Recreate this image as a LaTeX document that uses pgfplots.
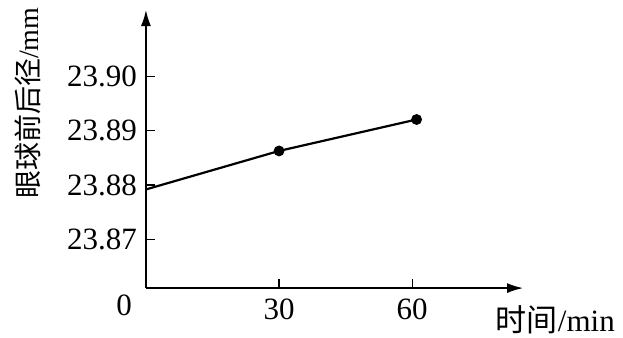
\documentclass[border=0pt]{standalone}
\usepackage{fontspec}
\setmainfont{Liberation Serif}
\newfontfamily\cjk{Noto Sans CJK SC}
\usepackage{pgfplots}
\pgfplotsset{compat=1.18}
\usetikzlibrary{arrows.meta}
\begin{document}
\begin{tikzpicture}
\begin{axis}[
  scale only axis, width=188.5pt, height=139pt,
  xmin=0, xmax=85, ymin=23.861, ymax=23.9123,
  axis lines=left,
  axis line style={line width=0.8pt, -{Latex[length=8pt,width=5pt]}},
  tick align=inside, major tick length=4.5pt,
  tick style={line width=0.6pt, black},
  xtick={30,60}, ytick={23.87,23.88,23.89,23.90},
  yticklabel style={/pgf/number format/fixed, /pgf/number format/fixed zerofill, /pgf/number format/precision=2, xshift=-1pt},
  xticklabel style={yshift=-2pt},
  /pgf/number format/assume math mode=true,
  tick label style={font=\fontsize{15.5}{18}\selectfont},
  clip=false,
]
\addplot[line width=1.1pt, black] coordinates {(0,23.8792) (30,23.8863) (61,23.8921)};
\addplot[only marks, mark=*, mark size=2.5pt, black] coordinates {(30,23.8863) (61,23.8921)};
\node[font=\fontsize{15.5}{18}\selectfont] at (rel axis cs:-0.058,-0.061) {0};
\node[font=\fontsize{15.5}{18}\selectfont, anchor=east] at (rel axis cs:1.262,-0.115) {{\cjk 时间}/min};
\node[font=\fontsize{14}{16}\selectfont, rotate=90] at (rel axis cs:-0.313,0.665) {{\cjk 眼球前后径}/mm};
\coordinate (bl) at (rel axis cs:-0.387,-0.176);
\coordinate (tr) at (rel axis cs:1.265,1.036);
\end{axis}
\pgfresetboundingbox
\path[use as bounding box] (bl) rectangle (tr);
\end{tikzpicture}
\end{document}
